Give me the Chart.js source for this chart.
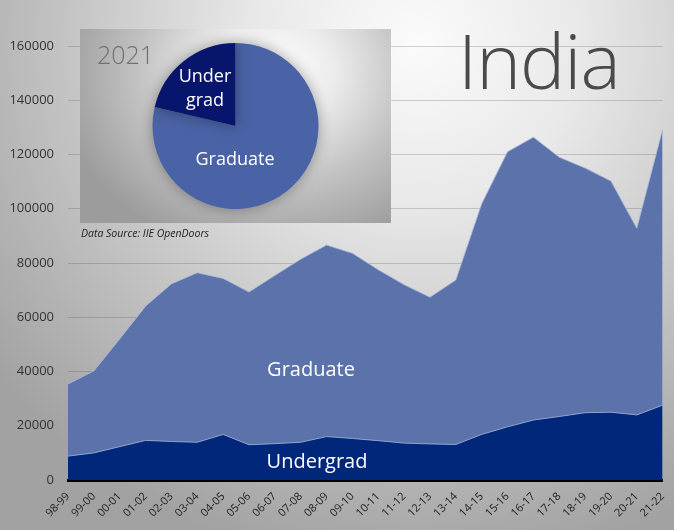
<!DOCTYPE html>
<html>
<head>
<meta charset="utf-8">
<script src="https://cdn.jsdelivr.net/npm/chart.js@4.4.1/dist/chart.umd.min.js"></script>
<style>
  body { margin: 0; }
  #wrap {
    position: relative; width: 674px; height: 530px; overflow: hidden;
    font-family: 'Open Sans', sans-serif;
    background: radial-gradient(ellipse 80% 100% at 62% 8%, #fbfbfb 0%, #e9e9e9 30%, #c4c4c4 65%, #a2a2a2 100%);
  }
  #areaChart { position: absolute; left: 0; top: 0; }
  .lbl { position: absolute; color: #fff; transform: translate(-50%, -50%); white-space: nowrap; }
  #title { position: absolute; left: 458px; top: 22px; font-size: 76px; font-weight: 300; color: #4a4a4a; letter-spacing: -1px; line-height: 1; }
  #inset {
    position: absolute; left: 80px; top: 29px; width: 311px; height: 194px;
    background: radial-gradient(ellipse 70% 95% at 62% 22%, #ffffff 0%, #ececec 28%, #c2c2c2 62%, #9c9c9c 100%);
  }
  #pieChart { position: absolute; left: 0; top: 0; }
  #year { position: absolute; left: 17px; top: 13px; font-size: 25px; font-weight: 300; color: #707070; line-height: 1; }
  #source { position: absolute; left: 81px; top: 226px; font-size: 10.5px; font-style: italic; color: #222; }
</style>
</head>
<body>
<div id="wrap">
  <canvas id="areaChart" width="674" height="530"></canvas>
  <div class="lbl" style="left:311px; top:368px; font-size:20px;">Graduate</div>
  <div class="lbl" style="left:317px; top:460px; font-size:20px;">Undergrad</div>
  <div id="title">India</div>
  <div id="inset">
    <canvas id="pieChart" width="311" height="194"></canvas>
    <div id="year">2021</div>
    <div class="lbl" style="left:125px; top:58px; font-size:18px; text-align:center; line-height:24px;">Under<br>grad</div>
    <div class="lbl" style="left:155px; top:129px; font-size:18px;">Graduate</div>
  </div>
  <div id="source">Data Source: IIE OpenDoors</div>
</div>

<script>
const years = ['98-99', '99-00', '00-01', '01-02', '02-03', '03-04', '04-05', '05-06',
  '06-07', '07-08', '08-09', '09-10', '10-11', '11-12', '12-13', '13-14',
  '14-15', '15-16', '16-17', '17-18', '18-19', '19-20', '20-21', '21-22'];

const undergrad = [8800, 10000, 12300, 14600, 14200, 13900, 16800, 13000,
  13400, 13900, 16000, 15300, 14500, 13600, 13300, 13100,
  16800, 19600, 22100, 23400, 24800, 25000, 24000, 27600];

const graduate = [26600, 30200, 39700, 49500, 58100, 62500, 57500, 56300,
  62000, 67500, 70600, 68300, 63000, 58400, 54100, 60600,
  85000, 101400, 104300, 95600, 90200, 85200, 68800, 101700];

const yTicks = [0, 20000, 40000, 60000, 80000, 100000, 120000, 140000, 160000];

const gradColor = '#5b72ab';
const ugColor = '#00277a';

// Stacked area chart of enrolments by level
const areaChart = new Chart(document.getElementById('areaChart'), {
    type: 'line',
    data: {
        labels: years,
        datasets: [{
            label: 'Undergrad',
            data: undergrad,
            fill: 'origin',
            backgroundColor: ugColor,
            borderColor: 'rgba(150, 170, 215, 0.9)',
            borderWidth: 1,
            pointRadius: 0,
            tension: 0
        }, {
            label: 'Graduate',
            data: graduate,
            fill: '-1',
            backgroundColor: gradColor,
            borderColor: 'rgba(170, 185, 220, 0.8)',
            borderWidth: 1,
            pointRadius: 0,
            tension: 0
        }]
    },
    options: {
        responsive: false,
        animation: false,
        layout: { padding: { top: 46, right: 10, left: 0, bottom: 0 } },
        plugins: { legend: { display: false }, tooltip: { enabled: false } },
        scales: {
            x: {
                grid: { display: false },
                border: { display: true, color: '#000', width: 3 },
                ticks: {
                    color: '#222',
                    font: { family: 'Open Sans', size: 11 },
                    minRotation: 45,
                    maxRotation: 45,
                    autoSkip: false,
                    padding: 2
                },
                afterFit: (s) => { s.height = 50; }
            },
            y: {
                stacked: true,
                min: 0,
                max: 160000,
                z: 1,
                afterBuildTicks: (s) => { s.ticks = yTicks.map(v => ({ value: v })); },
                grid: { color: 'rgba(60, 60, 60, 0.22)', lineWidth: 1, drawTicks: false },
                border: { display: false },
                ticks: {
                    color: '#333',
                    font: { family: 'Open Sans', size: 13 },
                    padding: 14,
                    callback: (v) => String(v)
                },
                afterFit: (s) => { s.width = 68; }
            }
        }
    }
});

// soft halo behind the pie
const pieShadow = {
    id: 'pieShadow',
    beforeDatasetsDraw(chart) {
        const ctx = chart.ctx;
        ctx.save();
        ctx.shadowColor = 'rgba(0, 0, 0, 0.35)';
        ctx.shadowBlur = 14;
    },
    afterDatasetsDraw(chart) {
        chart.ctx.restore();
    }
};

// 2021 split, from the last season
const pieChart = new Chart(document.getElementById('pieChart'), {
    type: 'pie',
    data: {
        labels: ['Graduate', 'Undergrad'],
        datasets: [{
            data: [graduate[graduate.length - 1], undergrad[undergrad.length - 1]],
            backgroundColor: ['#4a63a6', '#07166c'],
            borderWidth: 0
        }]
    },
    options: {
        responsive: false,
        animation: false,
        layout: { padding: { top: 14, bottom: 14 } },
        plugins: { legend: { display: false }, tooltip: { enabled: false } }
    },
    plugins: [pieShadow]
});
</script>
</body>
</html>
